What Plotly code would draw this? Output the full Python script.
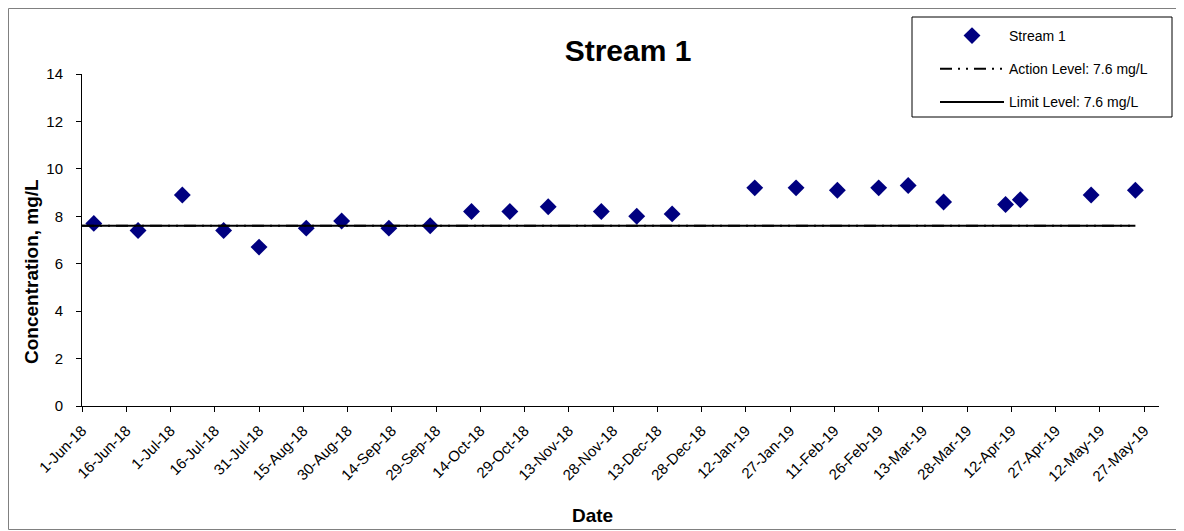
import plotly.graph_objects as go

# sample dates and concentrations
dates = [
    "2018-06-05", "2018-06-20", "2018-07-05", "2018-07-19", "2018-07-31",
    "2018-08-16", "2018-08-28", "2018-09-13", "2018-09-27", "2018-10-11",
    "2018-10-24", "2018-11-06", "2018-11-24", "2018-12-06", "2018-12-18",
    "2019-01-15", "2019-01-29", "2019-02-12", "2019-02-26", "2019-03-08",
    "2019-03-20", "2019-04-10", "2019-04-15", "2019-05-09", "2019-05-24",
]
conc = [
    7.7, 7.4, 8.9, 7.4, 6.7,
    7.5, 7.8, 7.5, 7.6, 8.2,
    8.2, 8.4, 8.2, 8.0, 8.1,
    9.2, 9.2, 9.1, 9.2, 9.3,
    8.6, 8.5, 8.7, 8.9, 9.1,
]
level_dates = ["2018-06-01", "2019-05-24"]
action_level = [7.6, 7.6]
limit_level = [7.6, 7.6]

FONT = "Arial, Liberation Sans, sans-serif"
# page body has an 8px margin, so the figure is sized to fill the rest
W, H = 1176, 523
ML, MR, MT, MB = 74, 25, 66, 125
pw = W - ML - MR
ph = H - MT - MB


def px_x(fx):
    return (fx - ML) / pw


def px_y(fy):
    return 1 - (fy - MT) / ph


fig = go.Figure()
fig.add_trace(go.Scatter(
    x=dates, y=conc, mode="markers", name="Stream 1", legendgroup="a",
    marker=dict(symbol="diamond", size=13, color="#000080"),
))
fig.add_trace(go.Scatter(
    x=level_dates, y=action_level, mode="lines", name="Action Level: 7.6 mg/L",
    legendgroup="b", line=dict(color="black", width=2, dash="12px,6px,2px,6px,2px,6px"),
))
fig.add_trace(go.Scatter(
    x=level_dates, y=limit_level, mode="lines", name="Limit Level: 7.6 mg/L",
    legendgroup="c", line=dict(color="black", width=2),
))

# outer chart border
fig.add_shape(type="rect", xref="paper", yref="paper",
              x0=px_x(0.5), x1=px_x(W - 1.5), y0=px_y(H - 1.5), y1=px_y(0.5),
              line=dict(color="#808080", width=1))
# legend box
fig.add_shape(type="rect", xref="paper", yref="paper",
              x0=px_x(904), x1=px_x(1164), y0=px_y(109), y1=px_y(9),
              line=dict(color="black", width=1))

# axis titles (placed like the original, not centred on the plot area)
fig.add_annotation(text="<b>Concentration, mg/L</b>", textangle=-90,
                   xref="paper", yref="paper", x=px_x(23), y=px_y(264),
                   xanchor="center", yanchor="middle",
                   showarrow=False, font=dict(size=19))
fig.add_annotation(text="<b>Date</b>",
                   xref="paper", yref="paper", x=px_x(584), y=px_y(508),
                   xanchor="center", yanchor="middle",
                   showarrow=False, font=dict(size=19))

fig.update_layout(
    width=W, height=H,
    margin=dict(l=ML, r=MR, t=MT, b=MB, autoexpand=False),
    paper_bgcolor="white", plot_bgcolor="white",
    font=dict(family=FONT, size=14, color="black"),
    title=dict(text="<b>Stream 1</b>", x=620 / W, xanchor="center",
               y=1 - 42 / H, yanchor="middle", font=dict(size=30)),
    showlegend=True,
    legend=dict(
        xref="container", yref="container",
        x=927 / W, y=1 - 12 / H, xanchor="left", yanchor="top",
        borderwidth=0, bgcolor="rgba(0,0,0,0)",
        font=dict(size=14), traceorder="grouped", tracegroupgap=12,
        itemwidth=64,
    ),
    xaxis=dict(
        type="date", range=["2018-06-01", "2019-06-01"],
        tick0="2018-06-01", dtick=15 * 86400000, tickformat="%-d-%b-%y",
        tickangle=-45, ticks="outside", ticklen=5, tickcolor="black",
        showline=True, linecolor="black", showgrid=False, zeroline=False,
        tickfont=dict(size=15), automargin=False, ticklabelstandoff=4,
    ),
    yaxis=dict(
        range=[0, 14], dtick=2, ticks="outside", ticklen=5, tickcolor="black",
        showline=True, linecolor="black", showgrid=False, zeroline=False,
        tickfont=dict(size=15), automargin=False, ticklabelstandoff=10,
    ),
)

fig.write_html("out.html")
